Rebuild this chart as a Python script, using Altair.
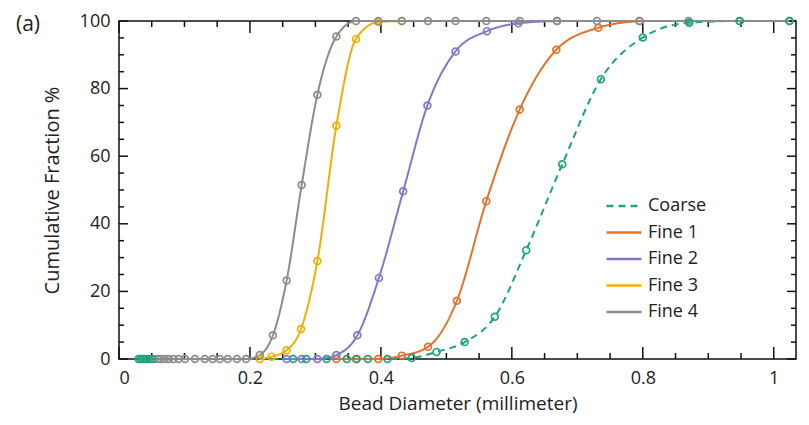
import altair as alt
import pandas as pd

series_names = ["Coarse", "Fine 1", "Fine 2", "Fine 3", "Fine 4"]
colors = ["#1fa37a", "#e3722b", "#8079c9", "#efb000", "#8c8c8c"]
dashes = [[7, 5], [1, 0], [1, 0], [1, 0], [1, 0]]

coarse_x = [0.030, 0.033, 0.036, 0.039, 0.042, 0.046, 0.050, 0.266, 0.286, 0.317, 0.348,
            0.363, 0.380, 0.410, 0.447, 0.485, 0.528, 0.574, 0.622, 0.677, 0.736, 0.800,
            0.871, 0.948, 1.024]
coarse_y = [0, 0, 0, 0, 0, 0, 0, 0, 0, 0, 0,
            0, 0, 0, 0.3, 2.1, 5.0, 12.5, 32.2, 57.6, 82.8, 95.1,
            99.5, 100, 100]

fine1_x = [0.332, 0.362, 0.396, 0.432, 0.472, 0.516, 0.561, 0.612, 0.668, 0.732, 0.795]
fine1_y = [0, 0, 0, 1.0, 3.6, 17.2, 46.7, 73.8, 91.5, 98.0, 100]

fine2_x = [0.256, 0.279, 0.303, 0.332, 0.364, 0.397, 0.434, 0.471, 0.514, 0.562, 0.610, 0.669]
fine2_y = [0, 0, 0, 1.2, 7.0, 24.0, 49.6, 75.0, 91.0, 97.0, 99.3, 100]

fine3_x = [0.215, 0.233, 0.256, 0.278, 0.303, 0.332, 0.362, 0.396, 0.432]
fine3_y = [0, 0.7, 2.6, 8.9, 29.0, 69.0, 94.7, 99.7, 100]

fine4_x = [0.054, 0.059, 0.064, 0.070, 0.076, 0.083, 0.091, 0.101, 0.116, 0.131, 0.143,
           0.154, 0.166, 0.180, 0.194, 0.215, 0.235, 0.256, 0.279, 0.303, 0.332, 0.362,
           0.396, 0.432, 0.472, 0.514, 0.561, 0.612, 0.669, 0.730, 0.795, 0.870, 0.948,
           1.024]
fine4_y = [0, 0, 0, 0, 0, 0, 0, 0, 0, 0, 0,
           0, 0, 0, 0, 1.2, 7.0, 23.2, 51.5, 78.2, 95.4, 100,
           100, 100, 100, 100, 100, 100, 100, 100, 100, 100, 100,
           100]

x_major = [0, 0.2, 0.4, 0.6, 0.8, 1.0]
x_minor = [0.05, 0.1, 0.15, 0.25, 0.3, 0.35, 0.45, 0.5, 0.55, 0.65, 0.7, 0.75, 0.85, 0.9, 0.95]
y_major = [0, 20, 40, 60, 80, 100]
y_minor = [5, 10, 15, 25, 30, 35, 45, 50, 55, 65, 70, 75, 85, 90, 95]

all_x = [coarse_x, fine1_x, fine2_x, fine3_x, fine4_x]
all_y = [coarse_y, fine1_y, fine2_y, fine3_y, fine4_y]

frames = []
for name, xs_, ys_ in zip(series_names, all_x, all_y):
    frames.append(pd.DataFrame({"series": name, "d": xs_, "f": ys_}))
df = pd.concat(frames, ignore_index=True)
# points: Coarse drawn last (on top)
pts = pd.concat(frames[1:] + frames[:1], ignore_index=True)

W, H = 677, 338
FONT = "Open Sans"
TXT = "#222222"
xs = alt.Scale(domain=[0, 1.034], nice=False, zero=False)
ys = alt.Scale(domain=[0, 100], nice=False)

color_scale = alt.Scale(domain=series_names, range=colors)
dash_scale = alt.Scale(domain=series_names, range=dashes)

legend = alt.Legend(orient="none", legendX=496, legendY=176, title=None,
                    labelFontSize=18, labelFont=FONT, labelColor=TXT,
                    symbolType="M-2.5,0H2.5", symbolSize=196, symbolStrokeWidth=2.5,
                    labelOffset=15, rowPadding=8.5, padding=0)

# main labelled axes (invisible marks)
main_axes = alt.Chart(df).mark_point(opacity=0).encode(
    x=alt.X("d:Q", scale=xs, axis=alt.Axis(
        orient="bottom", values=x_major, format="~g", ticks=False, domain=False, grid=False,
        labelFontSize=18, labelFont=FONT, labelColor=TXT, labelPadding=10,
        title="Bead Diameter (millimeter)", titleFontSize=19, titleFont=FONT,
        titleFontWeight="normal", titleColor=TXT, titlePadding=7)),
    y=alt.Y("f:Q", scale=ys, axis=alt.Axis(
        orient="left", values=y_major, ticks=False, domain=False, grid=False,
        labelFontSize=18, labelFont=FONT, labelColor=TXT, labelPadding=9,
        title="Cumulative Fraction %", titleFontSize=20, titleFont=FONT,
        titleFontWeight="normal", titleColor=TXT, titlePadding=17)),
)

# inward tick marks drawn from the tick value lists through the scales
xmaj = pd.DataFrame({"v": x_major})
xmin = pd.DataFrame({"v": x_minor})
ymaj = pd.DataFrame({"v": y_major})
ymin = pd.DataFrame({"v": y_minor})

tick_layers = []
for tdf, L in [(xmaj, 12), (xmin, 6)]:
    xenc = alt.X("v:Q", scale=xs, axis=None)
    tick_layers.append(alt.Chart(tdf).mark_rule(color="#111111", strokeWidth=1.5).encode(
        x=xenc, y=alt.value(H), y2=alt.value(H - L)))
    tick_layers.append(alt.Chart(tdf).mark_rule(color="#111111", strokeWidth=1.5).encode(
        x=xenc, y=alt.value(0), y2=alt.value(L)))
for tdf, L in [(ymaj, 9), (ymin, 5)]:
    yenc = alt.Y("v:Q", scale=ys, axis=None)
    tick_layers.append(alt.Chart(tdf).mark_rule(color="#111111", strokeWidth=1.5).encode(
        y=yenc, x=alt.value(0), x2=alt.value(L)))
    tick_layers.append(alt.Chart(tdf).mark_rule(color="#111111", strokeWidth=1.5).encode(
        y=yenc, x=alt.value(W), x2=alt.value(W - L)))

line_layers = []
for name in series_names:
    line_layers.append(
        alt.Chart(df).transform_filter(alt.datum.series == name)
        .mark_line(strokeWidth=2, interpolate="monotone")
        .encode(
            x=alt.X("d:Q", scale=xs, axis=None),
            y=alt.Y("f:Q", scale=ys, axis=None),
            color=alt.Color("series:N", scale=color_scale, legend=legend),
            strokeDash=alt.StrokeDash("series:N", scale=dash_scale, legend=legend),
        )
    )

points = alt.Chart(pts).mark_point(filled=False, size=46, strokeWidth=1.7, opacity=1).encode(
    x=alt.X("d:Q", scale=xs, axis=None),
    y=alt.Y("f:Q", scale=ys, axis=None),
    stroke=alt.Stroke("series:N", scale=color_scale, legend=None),
)

panel_label = alt.Chart(pd.DataFrame({"t": ["(a)"]})).mark_text(
    fontSize=21, font=FONT, color=TXT, align="center", baseline="middle"
).encode(text="t:N", x=alt.value(-91), y=alt.value(4))

chart = alt.layer(
    main_axes, *tick_layers, *line_layers, points, panel_label
).resolve_axis(x="independent", y="independent").properties(
    width=W, height=H,
    autosize=alt.AutoSizeParams(type="none"),
    padding={"left": 111, "top": 13, "right": 5, "bottom": 57},
).configure_view(stroke="#111111", strokeWidth=1.5)

chart.save("out.html", embed_options={"renderer": "svg", "actions": False})
